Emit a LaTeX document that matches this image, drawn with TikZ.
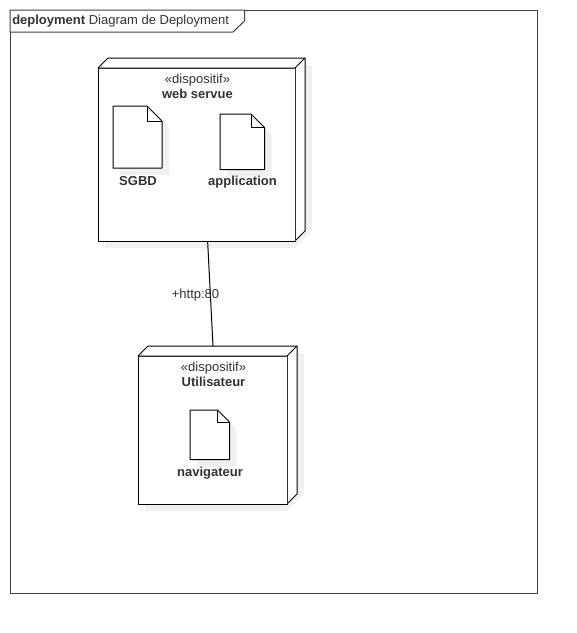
\documentclass[tikz,border=0pt]{standalone}
\usepackage{fontspec}
\setmainfont{Liberation Sans}
\usetikzlibrary{calc}
\definecolor{ink}{HTML}{333333}
\definecolor{shade}{HTML}{F0F0F0}
\tikzset{
  x=0.75pt,y=-0.75pt,
  edge/.style={draw=black,line width=0.75pt,line join=round},
  sidefill/.style={edge,fill=white},
  txt/.style={inner sep=0pt,text=ink,font=\fontsize{9.75pt}{11pt}\selectfont},
  boldtxt/.style={txt,font=\fontsize{9.75pt}{11pt}\selectfont\bfseries},
  front/.style={edge,fill=white,rectangle,inner sep=0pt,anchor=north west},
  shadow/.style={fill=shade,draw=none},
}
\newcommand{\artifact}[6]{% name x y w h fold
  \fill[shadow] (#2+7,#3+7) -- (#2+#4+7-#6,#3+7) -- (#2+#4+7,#3+#6+7) -- (#2+#4+7,#3+#5+7) -- (#2+7,#3+#5+7) -- cycle;
  \coordinate (#1) at (#2,#3);
  \draw[edge,fill=white] (#1) -- ++(#4-#6,0) -- ++(#6,#6) -- ++(0,#5-#6) -- ++(-#4,0) -- cycle;
  \draw[edge] (#2+#4-#6,#3) -- ++(0,#6) -- ++(#6,0);
}
\begin{document}
\begin{tikzpicture}
\useasboundingbox (0,0) rectangle (577,633);
\fill[white] (0,0) rectangle (577,633);
% frame
\draw[edge,draw=black!75] (10,10) rectangle (537,593);
\draw[edge,draw=black!75,fill=white] (10,10) -- (244.5,10) -- (244.5,21) -- (233,32) -- (10,32) -- cycle;
\node[txt,anchor=west] (title) at (12,21.5) {\textbf{deployment} Diagram de Deployment};
% web servue device
\fill[shadow] (105,75) -- (105,248) -- (295,248) -- (312,231) -- (312,65) -- (305,65) -- (305,75) -- cycle;
\draw[sidefill] (98,68) -- (108,58) -- (305,58) -- (305,231) -- (295,241) -- (295,68) -- cycle;
\draw[edge] (295,68) -- (305,58);
\node[front,minimum width=148pt,minimum height=130pt] (web) at (98,68) {};
\draw[line width=0.75pt,black!80] (98,68) -- (295,68) -- (295,241);
\node[txt] (webst) at (197.5,80) {«dispositif»};
\node[boldtxt] (webname) at (197.5,93.5) {web servue};
\artifact{sgbdbox}{113}{106}{49}{62}{15}
\node[boldtxt] (sgbd) at (138,181.5) {SGBD};
\artifact{appbox}{220}{114}{44.5}{55.5}{13.5}
\node[boldtxt] (app) at (242.5,182.5) {application};
% utilisateur device
\fill[shadow] (145,353) -- (145,511) -- (287,511) -- (304,494) -- (304,353) -- (297,353) -- cycle;
\draw[sidefill] (138,356) -- (148,346) -- (297,346) -- (297,494) -- (287,504) -- (287,356) -- cycle;
\draw[edge] (287,356) -- (297,346);
\coordinate (usertop) at (213,346);
\node[front,minimum width=111.75pt,minimum height=111pt] (user) at (138,356) {};
\draw[line width=0.75pt,black!80] (138,356) -- (287,356) -- (287,504);
\node[txt] (userst) at (213.5,368) {«dispositif»};
\node[boldtxt] (username) at (213.5,381.5) {Utilisateur};
\artifact{navbox}{190}{410}{39.5}{49.5}{12}
\node[boldtxt] (nav) at (210,473) {navigateur};
% connector
\draw[edge] ($(web.south west)!0.553!(web.south east)$) -- (usertop);
\node[txt] (http) at (195.5,295) {+http:80};
\end{tikzpicture}
\end{document}
